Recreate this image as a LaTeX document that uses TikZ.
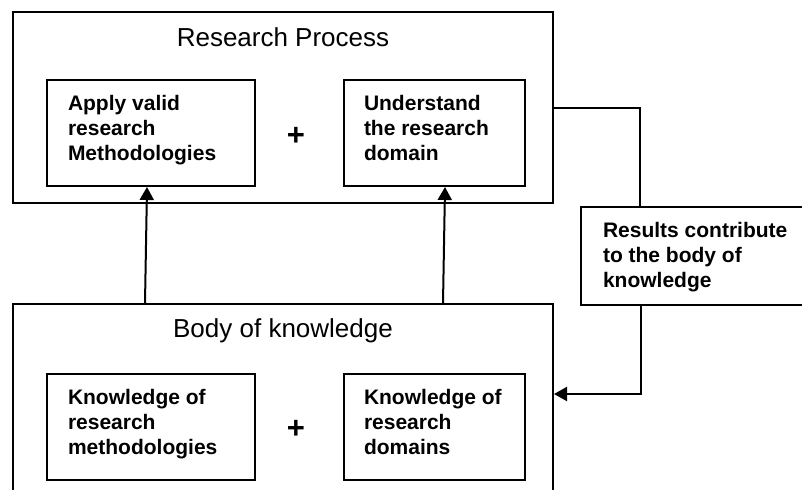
\documentclass[tikz,border=0pt]{standalone}
\usepackage{fontspec}
\setmainfont{Liberation Sans}
\usetikzlibrary{positioning, arrows.meta}

\begin{document}
\begin{tikzpicture}[
  x=0.5pt, y=-0.5pt,
  line width=1pt,
  every node/.style={align=left, inner sep=0pt},
  outerbox/.style={rectangle, draw=black, minimum width=270pt},
  innerbox/.style={rectangle, draw=black, minimum height=53pt},
  boxtext/.style={anchor=north west, font=\bfseries\fontsize{10.5}{12.5}\selectfont},
  title/.style={anchor=base, font=\fontsize{13}{15}\selectfont},
  plus/.style={font=\bfseries\fontsize{15.5}{18}\selectfont},
  arr/.style={-{Triangle[length=6.5pt, width=7pt]}}
]
\useasboundingbox (0,0) rectangle (802,489);
\clip (0,0) rectangle (802,489);

% Outer boxes
\node[outerbox, minimum height=95.5pt] (proc) at (283,107.75) {};
\node[outerbox, minimum height=98pt] (body) at (283,402) {};
\node[rectangle, draw=black, minimum width=124.5pt, minimum height=49pt] (res) at (705.5,256) {};

% Titles
\node[title] (proctitle) at ([yshift=-17.5pt]proc.north) {Research Process};
\node[title] (bodytitle) at ([yshift=-17pt]body.north) {Body of knowledge};

% Inner boxes
\node[innerbox, minimum width=104pt] (meth) at (151,133) {};
\node[innerbox, minimum width=90.5pt, right=43.5pt of meth] (dom) {};
\node[innerbox, minimum width=104pt, below=93pt of meth] (kmeth) {};
\node[innerbox, minimum width=90.5pt, below=93pt of dom] (kdom) {};

% Box texts
\node[boxtext] (methtxt) at ([xshift=10.5pt, yshift=-7.5pt]meth.north west) {Apply valid\\research\\Methodologies};
\node[boxtext] (domtxt) at ([xshift=10pt, yshift=-7.5pt]dom.north west) {Understand\\the research\\domain};
\node[boxtext] (kmethtxt) at ([xshift=10.5pt, yshift=-7.5pt]kmeth.north west) {Knowledge of\\research\\methodologies};
\node[boxtext] (kdomtxt) at ([xshift=10pt, yshift=-7.5pt]kdom.north west) {Knowledge of\\research\\domains};
\node[boxtext] (restxt) at ([xshift=11pt, yshift=-7.5pt]res.north west) {Results contribute\\to the body of\\knowledge};

% Plus signs
\node[plus] (plustop) at (296,136) {+};
\node[plus] (plusbot) at (296,429) {+};

% Upward arrows
\draw[arr] ([xshift=-3pt]meth.south |- body.north) -- ([xshift=-2pt]meth.south);
\draw[arr] ([xshift=4.25pt]dom.south |- body.north) -- ([xshift=5.25pt]dom.south);

% Feedback loop
\draw (proc.east) -| ([xshift=30pt]res.north west);
\draw[arr] ([xshift=30.5pt]res.south west) |- ([yshift=4pt]body.east);

\end{tikzpicture}
\end{document}
